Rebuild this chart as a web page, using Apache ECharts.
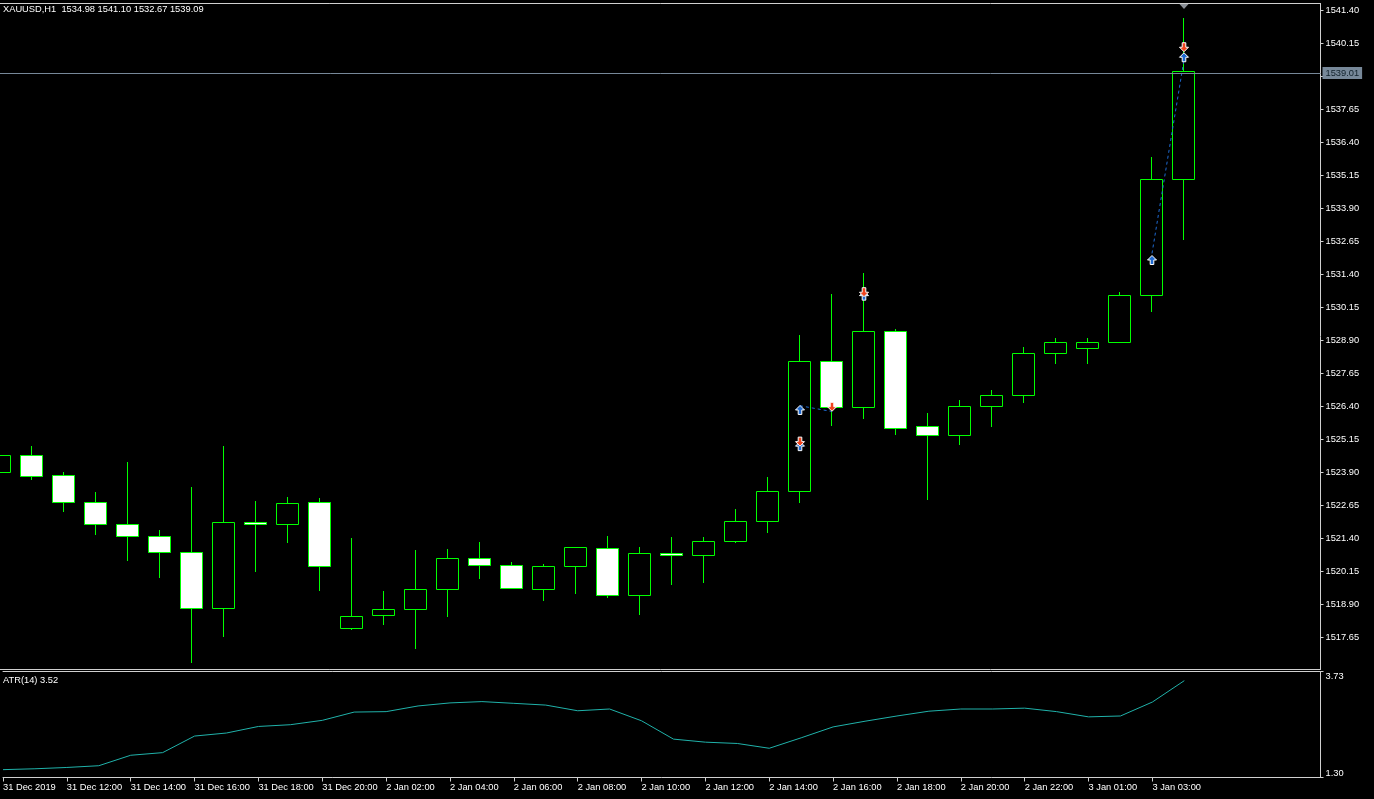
<!DOCTYPE html>
<html>
<head>
<meta charset="utf-8">
<script src="https://cdn.jsdelivr.net/npm/echarts@6/dist/echarts.min.js"></script>
<style>
html,body{margin:0;padding:0;background:#000;}
#chart{width:1374px;height:799px;}
</style>
</head>
<body>
<div id="chart"></div>
<script>
// ---- data ----
const symbolName = 'XAUUSD,H1';
const barTimes = [
  '31 Dec 10:00','31 Dec 11:00','31 Dec 12:00','31 Dec 13:00','31 Dec 14:00','31 Dec 15:00',
  '31 Dec 16:00','31 Dec 17:00','31 Dec 18:00','31 Dec 19:00','31 Dec 20:00',
  '2 Jan 01:00','2 Jan 02:00','2 Jan 03:00','2 Jan 04:00','2 Jan 05:00','2 Jan 06:00',
  '2 Jan 07:00','2 Jan 08:00','2 Jan 09:00','2 Jan 10:00','2 Jan 11:00','2 Jan 12:00',
  '2 Jan 13:00','2 Jan 14:00','2 Jan 15:00','2 Jan 16:00','2 Jan 17:00','2 Jan 18:00',
  '2 Jan 19:00','2 Jan 20:00','2 Jan 21:00','2 Jan 22:00','2 Jan 23:00',
  '3 Jan 01:00','3 Jan 02:00','3 Jan 03:00','3 Jan 04:00'
];
const opens  = [1523.89,1524.53,1523.78,1522.75,1521.92,1521.46,1520.86,1518.74,1522.00,1521.92,1522.75,
  1517.98,1518.47,1518.70,1519.46,1520.63,1520.37,1519.46,1520.33,1521.01,1519.23,1520.82,1520.75,
  1521.28,1522.03,1523.17,1528.11,1526.37,1529.24,1525.63,1525.29,1526.39,1526.81,1528.41,
  1528.59,1528.81,1530.59,1534.98];
const highs  = [1524.60,1524.88,1523.90,1523.14,1524.28,1521.70,1523.33,1524.88,1522.80,1522.95,1522.90,
  1521.40,1519.39,1520.95,1520.98,1521.25,1520.48,1520.42,1521.07,1521.48,1521.06,1521.44,1521.44,
  1522.50,1523.71,1529.09,1530.64,1531.44,1529.32,1526.14,1526.63,1527.01,1528.64,1528.98,
  1528.96,1530.71,1535.83,1541.10];
const lows   = [1523.80,1523.61,1522.40,1521.53,1520.54,1519.90,1516.68,1517.66,1520.12,1521.22,1519.40,
  1517.93,1518.12,1517.21,1518.42,1519.86,1519.48,1519.03,1519.29,1519.14,1518.50,1519.63,1519.71,
  1521.22,1521.60,1522.74,1525.65,1525.91,1525.31,1522.85,1524.93,1525.62,1526.53,1527.99,
  1528.00,1528.79,1529.97,1532.67];
const closes = [1524.53,1523.74,1522.75,1521.92,1521.46,1520.86,1518.74,1522.00,1521.93,1522.71,1520.33,
  1518.43,1518.70,1519.46,1520.63,1520.37,1519.50,1520.33,1521.05,1519.23,1520.82,1520.76,1521.28,
  1522.03,1523.18,1528.11,1526.37,1529.24,1525.58,1525.29,1526.39,1526.81,1528.40,1528.83,
  1528.81,1530.59,1534.98,1539.09];
const atrValues = [1.48,1.50,1.53,1.57,1.81,1.87,2.25,2.32,2.47,2.51,2.61,
  2.80,2.81,2.94,3.01,3.04,3.00,2.96,2.83,2.87,2.60,2.18,2.11,
  2.08,1.97,2.21,2.46,2.59,2.71,2.82,2.87,2.87,2.89,2.81,
  2.69,2.71,3.03,3.52];
const buyArrows  = [[25,1526.25],[25,1524.88],[27,1530.58],[36,1531.93],[37,1539.61]];
const sellArrows = [[26,1526.37],[25,1525.05],[27,1530.71],[37,1539.99]];
const tradeLines = [[[25,1526.41],[26,1526.19]],[[36,1532.18],[37,1539.51]]];
const bidPrice = 1539.01;
const priceTicks = [1517.65,1518.90,1520.15,1521.40,1522.65,1523.90,1525.15,1526.40,1527.65,
  1528.90,1530.15,1531.40,1532.65,1533.90,1535.15,1536.40,1537.65,1538.90,1540.15,1541.40];
const atrTicks = [1.30,3.73];
const timeTickIndex = [0,2,4,6,8,10,12,14,16,18,20,22,24,26,28,30,32,34,36];
const timeTickLabels = ['31 Dec 2019','31 Dec 12:00','31 Dec 14:00','31 Dec 16:00','31 Dec 18:00',
  '31 Dec 20:00','2 Jan 02:00','2 Jan 04:00','2 Jan 06:00','2 Jan 08:00','2 Jan 10:00',
  '2 Jan 12:00','2 Jan 14:00','2 Jan 16:00','2 Jan 18:00','2 Jan 20:00','2 Jan 22:00',
  '3 Jan 01:00','3 Jan 03:00'];

// ---- build ----
const candleData = opens.map((o, i) => [i, o, closes[i], lows[i], highs[i]]);
const last = candleData.length - 1;
const headerText = symbolName + '  ' + [opens[last], highs[last], lows[last], closes[last]].map(v => v.toFixed(2)).join(' ');
const atrText = 'ATR(14) ' + atrValues[last].toFixed(2);

const FONT = 'Liberation Sans';
const FG = '#ffffff';
const FRAME = '#d0d0d0';
const CANDLE = '#00ff00';

// layout
const gLeft = 0, gWidth = 1320.5;
const pxPerBar = 32;
const xMin = 0;
const xMax = xMin + gWidth / pxPerBar;
const g0Top = 3.5, g0Height = 666;
const g1Top = 671.5, g1Height = 106;
// price scale: 26.4 px per unit, 1541.40 at y=10
const pxPerUnit = 26.4;
const yMax = 1541.40 + (10 - g0Top) / pxPerUnit;
const yMin = yMax - g0Height / pxPerUnit;

function renderCandle(params, api) {
  const i = api.value(0), o = api.value(1), c = api.value(2), l = api.value(3), h = api.value(4);
  const pO = api.coord([i, o]), pC = api.coord([i, c]);
  const pL = api.coord([i, l]), pH = api.coord([i, h]);
  const cx = Math.round(pO[0]) - 0.5;
  const half = 11;
  let top = Math.round(Math.min(pO[1], pC[1])) + 0.5;
  let bot = Math.round(Math.max(pO[1], pC[1])) + 0.5;
  if (bot - top < 2) bot = top + 2;
  const bull = c >= o;
  return {
    type: 'group',
    children: [
      { type: 'line', shape: { x1: cx, y1: Math.round(pH[1]), x2: cx, y2: Math.round(pL[1]) },
        style: { stroke: CANDLE, lineWidth: 1 } },
      { type: 'rect', shape: { x: cx - half, y: top, width: 2 * half, height: bot - top },
        style: { fill: bull ? '#000000' : '#ffffff', stroke: CANDLE, lineWidth: 1 } }
    ]
  };
}

const upArrow = 'path://M5,0 L10,5 L7,5 L7,10 L3,10 L3,5 L0,5 Z';
const downArrow = 'path://M3,0 L7,0 L7,5 L10,5 L5,10 L0,5 L3,5 Z';

function frameAxis(gridIndex, position) {
  return { type: 'value', gridIndex: gridIndex, position: position, min: xMin, max: xMax,
    splitLine: { show: false }, axisTick: { show: false }, axisLabel: { show: false },
    axisLine: { show: true, onZero: false, lineStyle: { color: FRAME, width: 1 } } };
}

const chart = echarts.init(document.getElementById('chart'), null, { renderer: 'canvas' });
chart.setOption({
  backgroundColor: '#000000',
  animation: false,
  textStyle: { fontFamily: FONT },
  title: [
    { text: headerText, left: 3, top: 5, padding: 0,
      textStyle: { color: FG, fontSize: 9.3, fontWeight: 'normal', fontFamily: FONT } },
    { text: atrText, left: 3, top: 676, padding: 0,
      textStyle: { color: FG, fontSize: 9.3, fontWeight: 'normal', fontFamily: FONT } }
  ],
  grid: [
    { left: gLeft, top: g0Top, width: gWidth, height: g0Height, show: false },
    { left: gLeft, top: g1Top, width: gWidth, height: g1Height, show: false }
  ],
  xAxis: [
    frameAxis(0, 'bottom'),
    Object.assign(frameAxis(1, 'bottom'), {
      axisTick: { show: true, length: 4, customValues: timeTickIndex, lineStyle: { color: FRAME } },
      axisLabel: { show: true, customValues: timeTickIndex, align: 'left', margin: 5,
        color: FG, fontSize: 9.3, fontFamily: FONT,
        formatter: function (v) {
          const k = timeTickIndex.indexOf(Math.round(v));
          return k >= 0 ? timeTickLabels[k] : '';
        } } }),
    frameAxis(0, 'top'),
    frameAxis(1, 'top')
  ],
  yAxis: [
    { type: 'value', gridIndex: 0, position: 'right', min: yMin, max: yMax,
      splitLine: { show: false },
      axisLine: { show: true, onZero: false, lineStyle: { color: FRAME } },
      axisTick: { show: true, length: 3, customValues: priceTicks, lineStyle: { color: FRAME } },
      axisLabel: { show: true, customValues: priceTicks, margin: 5, color: FG, fontSize: 9.3,
        fontFamily: FONT, formatter: v => v.toFixed(2) } },
    { type: 'value', gridIndex: 1, position: 'right', min: atrTicks[0], max: atrTicks[1],
      splitLine: { show: false },
      axisLine: { show: true, onZero: false, lineStyle: { color: FRAME } },
      axisTick: { show: true, length: 3, customValues: atrTicks, lineStyle: { color: FRAME } },
      axisLabel: { show: true, customValues: atrTicks, margin: 5, color: FG, fontSize: 9.3,
        fontFamily: FONT, verticalAlignMinLabel: 'bottom', verticalAlignMaxLabel: 'top',
        formatter: v => v.toFixed(2) } }
  ],
  series: [
    { type: 'custom', name: 'candles', xAxisIndex: 0, yAxisIndex: 0, clip: true,
      renderItem: renderCandle, data: candleData,
      encode: { x: 0, y: [1, 2, 3, 4] },
      markLine: { silent: true, symbol: 'none', animation: false,
        lineStyle: { color: '#778899', width: 1, type: 'solid' },
        label: { show: true, position: 'end', distance: 2, formatter: bidPrice.toFixed(2),
          backgroundColor: '#778899', color: '#10202a', fontSize: 9.3, fontFamily: FONT, padding: [2, 3, 1, 3] },
        data: [{ yAxis: bidPrice }] },
      markPoint: { silent: true, symbol: 'triangle', symbolRotate: 180, symbolSize: [9, 5],
        symbolOffset: [0, 3], itemStyle: { color: '#8a8f96' }, label: { show: false },
        data: [{ coord: [last, yMax] }] }
    },
    { type: 'lines', coordinateSystem: 'cartesian2d', xAxisIndex: 0, yAxisIndex: 0, silent: true,
      lineStyle: { color: '#1e6ad2', width: 1, type: [3, 3], opacity: 1 },
      data: tradeLines.map(c => ({ coords: c })) },
    { type: 'scatter', name: 'buy', xAxisIndex: 0, yAxisIndex: 0, symbol: upArrow, symbolSize: [9, 9],
      itemStyle: { color: '#1e6ad2', borderColor: '#ffffff', borderWidth: 1, opacity: 1 },
      data: buyArrows, z: 4 },
    { type: 'scatter', name: 'sell', xAxisIndex: 0, yAxisIndex: 0, symbol: downArrow, symbolSize: [9, 9],
      itemStyle: { color: '#f0441e', borderColor: '#ffffff', borderWidth: 1, opacity: 1 },
      data: sellArrows, z: 5 },
    { type: 'line', name: 'ATR', xAxisIndex: 1, yAxisIndex: 1, showSymbol: false, symbol: 'none',
      lineStyle: { color: '#20b2aa', width: 1 }, data: atrValues.map((v, i) => [i, v]) }
  ]
});
</script>
</body>
</html>
